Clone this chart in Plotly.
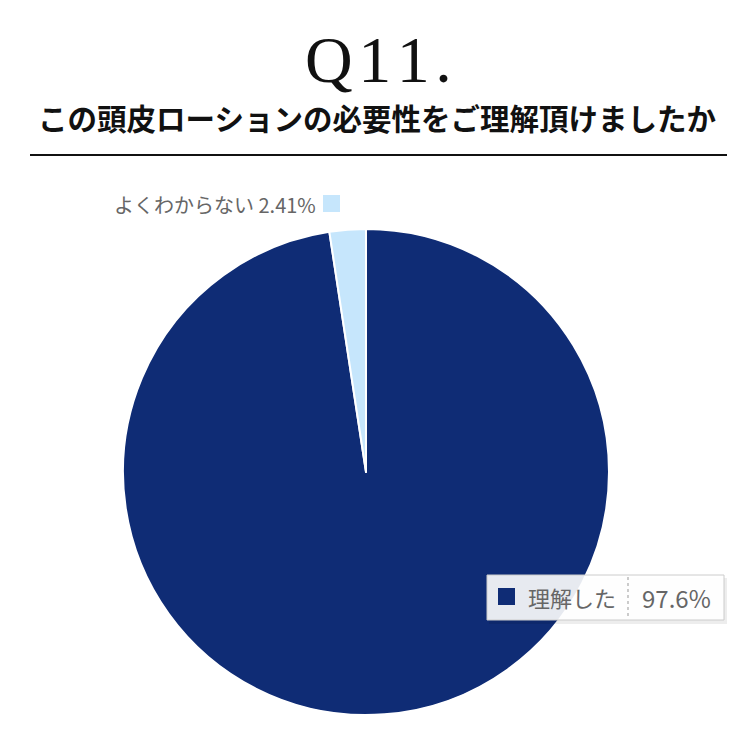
import plotly.graph_objects as go

# データ
labels = ["理解した", "よくわからない"]
counts = [81, 2]
colors = ["#0f2c75", "#c6e6fc"]
title_main = "Q11."
title_sub = "この頭皮ローションの必要性をご理解頂けましたか"

W, H = 755, 744
OFF = 8  # ページ本体の余白分を補正
total = sum(counts)
pcts = [c / total * 100 for c in counts]


def px(x):
    return (x - OFF) / W


def py(y):
    return 1 - (y - OFF) / H


fig = go.Figure()

fig.add_trace(go.Pie(
    labels=labels,
    values=counts,
    sort=False,
    direction="clockwise",
    rotation=0,
    marker=dict(colors=colors, line=dict(color="white", width=2)),
    textinfo="none",
    hoverinfo="skip",
    showlegend=False,
    domain=dict(x=[px(123), px(609)], y=[py(715), py(229)]),
))

spaced = "\u200a".join(title_main)

annotations = [
    dict(text=spaced, x=px(378), y=py(59), font=dict(family="Liberation Serif", size=66, color="#111")),
    dict(text="<b>" + title_sub + "</b>", x=px(377), y=py(117),
         font=dict(family="Noto Sans CJK JP", size=29.5, color="#111")),
    # 外側ラベル (小さいスライス)
    dict(text=f"{labels[1]} {pcts[1]:.2f}%", x=px(318), y=py(204), xanchor="right",
         font=dict(family="Noto Sans CJK JP", size=20, color="#666")),
    # ツールチップ風ラベル (大きいスライス)
    dict(text=labels[0], x=px(526), y=py(597), xanchor="left",
         font=dict(family="Noto Sans CJK JP", size=22, color="#666")),
    dict(text=f"{pcts[0]:.1f}%", x=px(676), y=py(597), xanchor="center",
         font=dict(family="Noto Sans CJK JP", size=24, color="#666")),
]
for a in annotations:
    a.update(xref="paper", yref="paper", showarrow=False, yanchor="middle")
    a.setdefault("xanchor", "center")

shapes = [
    # 区切り線
    dict(type="line", x0=px(30), x1=px(727), y0=py(155), y1=py(155), line=dict(color="#111", width=2)),
    # 小スライスの凡例四角
    dict(type="rect", x0=px(323), x1=px(340), y0=py(212), y1=py(195), fillcolor=colors[1], line=dict(width=0)),
    # ツールチップの影
    dict(type="rect", x0=px(489), x1=px(727), y0=py(624), y1=py(578), fillcolor="rgba(0,0,0,0.07)", line=dict(width=0)),
    # ツールチップ本体
    dict(type="rect", x0=px(487), x1=px(724), y0=py(620), y1=py(575), fillcolor="rgba(255,255,255,0.9)",
         line=dict(color="#cccccc", width=1)),
    dict(type="rect", x0=px(498), x1=px(515), y0=py(605), y1=py(588), fillcolor=colors[0], line=dict(width=0)),
    dict(type="line", x0=px(628), x1=px(628), y0=py(577), y1=py(618), line=dict(color="#999", width=1, dash="dot")),
]
for s in shapes:
    s.update(xref="paper", yref="paper")

fig.update_layout(
    width=W, height=H,
    margin=dict(l=0, r=0, t=0, b=0),
    paper_bgcolor="white",
    plot_bgcolor="white",
    annotations=annotations,
    shapes=shapes,
)

fig.write_html("out.html")
